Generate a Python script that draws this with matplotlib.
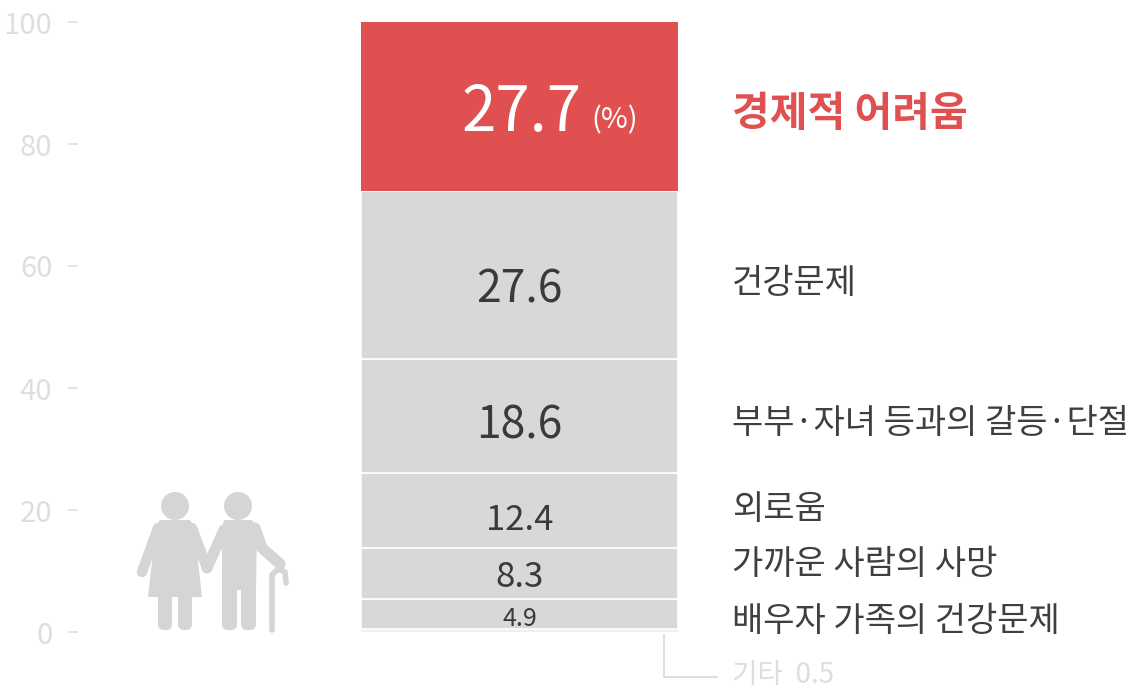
import matplotlib
matplotlib.use("Agg")
import matplotlib.pyplot as plt
from matplotlib.patches import Circle, Polygon, FancyBboxPatch
from matplotlib.lines import Line2D

plt.rcParams['font.family'] = ['Noto Sans CJK KR', 'DejaVu Sans']

categories = ['기타', '배우자 가족의 건강문제', '가까운 사람의 사망', '외로움',
              '부부·자녀 등과의 갈등·단절', '건강문제', '경제적 어려움']
values = [0.5, 4.9, 8.3, 12.4, 18.6, 27.6, 27.7]
value_labels = ['0.5', '4.9', '8.3', '12.4', '18.6', '27.6', '27.7']
y_ticks = [0, 20, 40, 60, 80, 100]

W, H = 1134, 693
fig = plt.figure(figsize=(W / 100, H / 100), dpi=100, facecolor='white')

top_px, zero_px = 22, 632
ax_left, ax_right = 78, 1134
ax = fig.add_axes([ax_left / W, 1 - zero_px / H, (ax_right - ax_left) / W, (zero_px - top_px) / H])
ax.set_xlim(ax_left, ax_right)
ax.set_ylim(0, 100)
ax.patch.set_alpha(0)
for s in ax.spines.values():
    s.set_visible(False)
ax.set_xticks([])
ax.set_yticks(y_ticks)
ax.tick_params(axis='y', length=7.5, width=1.2, color='#dedede', labelcolor='#dedede',
               labelsize=21, pad=11)

bar_left, bar_w = 361, 317
label_x = 732
bottom = 0
num_sizes = {'27.7': 44.5, '27.6': 32, '18.6': 32, '12.4': 25, '8.3': 25, '4.9': 18}
lab_y = {'건강문제': 57.2, '부부·자녀 등과의 갈등·단절': 34.2, '외로움': 20.0,
         '가까운 사람의 사망': 11.0, '배우자 가족의 건강문제': 1.7, '경제적 어려움': 85.0}
num_y = {'27.7': 85.0, '27.6': 56.2, '18.6': 33.8, '12.4': 18.3, '8.3': 8.9, '4.9': 2.1}
for cat, val, vl in zip(categories, values, value_labels):
    is_hi = cat == '경제적 어려움'
    is_other = cat == '기타'
    color = '#e05050' if is_hi else ('#efefef' if is_other else '#d8d8d8')
    ax.bar(bar_left, val, width=bar_w, bottom=bottom, align='edge', color=color,
           edgecolor='white', linewidth=0 if is_other or is_hi else 1.2)
    if not is_other:
        if is_hi:
            ax.text(581, num_y[vl], vl, ha='right', va='center', fontsize=num_sizes[vl], color='white')
        else:
            ax.text(bar_left + bar_w / 2, num_y[vl], vl, ha='center', va='center',
                    fontsize=num_sizes[vl], color='#3a3a3a')
        ax.text(label_x, lab_y[cat], cat, ha='left', va='center',
                fontsize=29.5 if is_hi else 24.5,
                fontweight='bold' if is_hi else 'normal',
                color='#e05050' if is_hi else '#3f3f3f')
    bottom += val
ax.text(591, 83.8, '(%)', ha='left', va='center', fontsize=21, color='white')

# Overlay in pixel coordinates for the leader line, "other" label and icon
ov = fig.add_axes([0, 0, 1, 1])
ov.set_xlim(0, W)
ov.set_ylim(H, 0)
ov.axis('off')
ov.patch.set_alpha(0)
ov.add_line(Line2D([664, 664, 717], [635, 677, 677], color='#d8d8d8', lw=1.2))
ov.text(732, 675, f'{categories[0]}  {value_labels[0]}', ha='left', va='center', fontsize=20,
        color='#dedede')

c = '#d5d5d5'
# woman
ov.add_patch(Circle((175, 506), 14, color=c, lw=0))
ov.add_patch(Polygon([(160, 520), (190, 520), (194, 526), (202, 597), (148, 597), (156, 526)],
                     closed=True, color=c, lw=0))
ov.add_line(Line2D([158, 142], [528, 572], color=c, lw=7.5, solid_capstyle='round'))
ov.add_line(Line2D([192, 207], [528, 568], color=c, lw=7.5, solid_capstyle='round'))
ov.add_patch(FancyBboxPatch((158, 590), 14, 40, boxstyle='round,pad=0,rounding_size=6', color=c, lw=0))
ov.add_patch(FancyBboxPatch((178, 590), 14, 40, boxstyle='round,pad=0,rounding_size=6', color=c, lw=0))
# man
ov.add_patch(Circle((238, 506), 14, color=c, lw=0))
ov.add_patch(Polygon([(224, 520), (252, 520), (257, 528), (256, 590), (222, 590), (222, 528)],
                     closed=True, color=c, lw=0))
ov.add_line(Line2D([224, 207], [530, 568], color=c, lw=8, solid_capstyle='round'))
ov.add_line(Line2D([255, 262, 280], [528, 548, 564], color=c, lw=8, solid_capstyle='round',
                   solid_joinstyle='round'))
ov.add_patch(FancyBboxPatch((222, 575), 15, 55, boxstyle='round,pad=0,rounding_size=6', color=c, lw=0))
ov.add_patch(FancyBboxPatch((241, 575), 15, 55, boxstyle='round,pad=0,rounding_size=6', color=c, lw=0))
# cane
ov.add_line(Line2D([272, 272, 278, 285, 286], [630, 575, 569, 572, 583], color=c, lw=4,
                   solid_capstyle='round', solid_joinstyle='round'))

fig.savefig('out.png', dpi=100)
